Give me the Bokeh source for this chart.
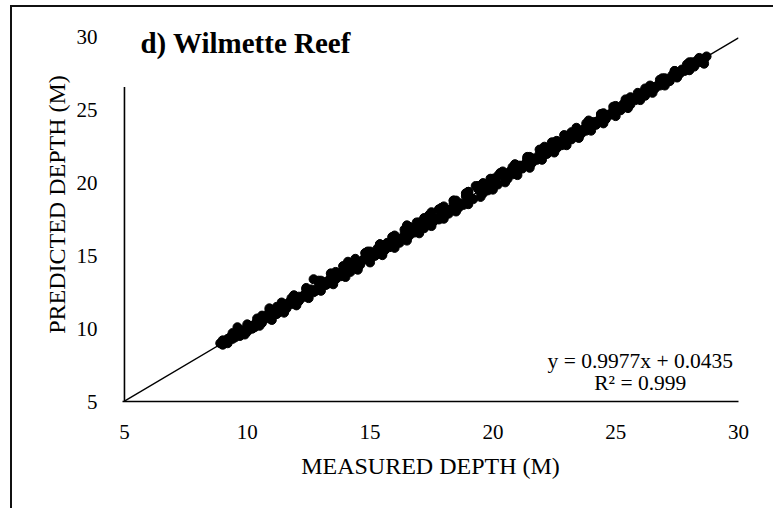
from bokeh.plotting import figure
from bokeh.models import Label, FixedTicker, ColumnDataSource
from bokeh.embed import file_html
from bokeh.resources import INLINE

# Measured / predicted depth (m)
measured_a = [8.9, 9.0, 9.1, 9.3, 9.4, 9.6, 9.7, 9.9, 10.1, 10.3, 10.5, 10.7, 10.9, 11.1, 11.3, 11.5,
              11.7, 11.9, 12.1, 12.3, 12.5, 12.7, 12.9, 13.1, 13.3, 13.5, 13.7, 13.9, 14.1, 14.3, 14.5,
              14.7, 14.9, 15.1, 15.3, 15.5, 15.7, 15.9, 16.1, 16.3, 16.5, 16.7, 16.9, 17.1, 17.3, 17.5,
              17.7, 17.9, 18.1, 18.3, 18.5, 18.7, 18.9, 19.1, 19.3, 19.5, 19.7, 19.9, 20.1, 20.3, 20.5,
              20.7, 20.9, 21.1, 21.3, 21.5, 21.7, 21.9, 22.1, 22.3, 22.5, 22.7, 22.9, 23.1, 23.3, 23.5,
              23.7, 23.9, 24.1, 24.3, 24.5, 24.7, 24.9, 25.1, 25.3, 25.5, 25.7, 25.9, 26.1, 26.3, 26.5,
              26.7, 26.9, 27.1, 27.3, 27.5, 27.7, 27.9, 28.1, 28.3, 28.5, 28.7, 28.6, 28.4]
predicted_a = [9.0, 9.2, 9.1, 9.4, 9.3, 10.1, 9.8, 9.6, 10.2, 10.3, 10.6, 10.7, 11.4, 11.1, 11.4, 11.5,
               11.8, 11.9, 12.2, 12.3, 12.6, 13.4, 12.9, 13.2, 13.3, 13.6, 13.7, 14.0, 14.6, 14.2, 14.6,
               14.7, 15.0, 15.1, 15.5, 15.4, 15.9, 15.8, 16.2, 16.2, 17.1, 16.7, 17.0, 17.0, 17.5, 18.0,
               17.6, 18.0, 18.2, 18.2, 18.8, 18.6, 19.1, 19.0, 19.8, 19.4, 19.9, 19.8, 20.2, 20.7, 20.5,
               20.8, 20.9, 21.2, 21.3, 21.8, 21.7, 22.0, 22.5, 22.3, 22.6, 22.7, 23.0, 23.3, 23.3, 23.6,
               23.7, 24.0, 24.2, 24.3, 24.6, 24.7, 25.0, 25.1, 25.4, 25.5, 25.8, 25.9, 26.2, 26.3, 26.6,
               26.7, 27.0, 27.1, 27.4, 27.5, 27.8, 27.9, 28.3, 28.4, 28.5, 28.7, 28.2, 28.6]
measured_b = [9.0, 9.2, 9.5, 9.8, 10.0, 10.2, 10.4, 10.6, 10.8, 11.0, 11.2, 11.4, 11.6, 11.8, 12.0, 12.2,
              12.4, 12.6, 12.8, 13.0, 13.2, 13.4, 13.6, 13.8, 14.0, 14.2, 14.4, 14.6, 14.8, 15.0, 15.2,
              15.4, 15.6, 15.8, 16.0, 16.2, 16.4, 16.6, 16.8, 17.0, 17.2, 17.4, 17.6, 17.8, 18.0, 18.2,
              18.4, 18.6, 18.8, 19.0, 19.2, 19.4, 19.6, 19.8, 20.0, 20.2, 20.4, 20.6, 20.8, 21.0, 21.2,
              21.4, 21.6, 21.8, 22.0, 22.2, 22.4, 22.6, 22.8, 23.0, 23.2, 23.4, 23.6, 23.8, 24.0, 24.2,
              24.4, 24.6, 24.8, 25.0, 25.2, 25.4, 25.6, 25.8, 26.0, 26.2, 26.4, 26.6, 26.8, 27.0, 27.2,
              27.4, 27.6, 27.8, 28.0, 28.2, 28.4]
predicted_b = [8.9, 9.0, 9.4, 9.9, 9.8, 10.0, 10.5, 10.4, 10.9, 10.8, 11.0, 11.5, 11.4, 11.7, 11.9, 12.1,
               12.2, 12.7, 12.6, 12.9, 13.0, 13.5, 13.4, 13.6, 14.0, 13.9, 14.3, 14.4, 14.9, 14.8, 15.0,
               15.6, 15.4, 15.6, 16.1, 15.9, 16.5, 16.4, 16.6, 17.3, 16.9, 17.7, 17.4, 17.5, 18.4, 17.9,
               18.6, 18.3, 18.5, 19.4, 18.9, 19.6, 19.3, 19.5, 20.3, 19.9, 20.6, 20.3, 20.6, 21.2, 21.0,
               21.6, 21.4, 21.6, 22.2, 22.0, 22.5, 22.4, 22.6, 23.2, 23.0, 23.5, 23.4, 23.6, 24.1, 24.0,
               24.5, 24.4, 24.7, 25.2, 25.0, 25.6, 25.4, 25.7, 26.1, 26.0, 26.5, 26.5, 26.7, 27.2, 27.0,
               27.5, 27.5, 27.7, 28.1, 28.0, 28.3]
measured_c = [10.5, 11.0, 11.5, 12.0, 12.5, 13.0, 13.5, 14.0, 14.5, 15.0, 15.5, 16.0, 16.5, 17.0, 17.5,
              18.0, 18.5, 19.0, 19.5, 20.0, 20.5, 21.0, 21.5, 22.0, 22.5, 23.0, 23.5, 24.0, 24.5, 25.0,
              25.5, 26.0, 26.5, 27.0, 27.5, 28.0]
predicted_c = [10.2, 10.6, 11.1, 11.6, 12.1, 12.6, 13.05, 13.55, 14.05, 14.55, 15.05, 15.55, 16.05, 16.55,
               17.05, 17.55, 18.05, 18.55, 19.05, 19.55, 20.05, 20.55, 21.05, 21.6, 22.1, 22.6, 23.1, 23.6,
               24.1, 24.6, 25.15, 25.7, 26.2, 26.7, 27.25, 27.75]
measured_d = [10.4, 10.9, 11.4, 11.9, 12.4, 12.9, 13.4, 13.9, 14.4, 14.9, 15.4, 15.9, 16.4, 16.9, 17.4,
              17.9, 18.4, 18.9, 19.4, 19.9, 20.4, 20.9, 21.4, 21.9, 22.4, 22.9, 23.4, 23.9, 24.4, 24.9,
              25.4, 25.9, 26.4, 26.9, 27.4, 27.9]
predicted_d = [10.7, 11.2, 11.8, 12.3, 12.8, 13.3, 13.8, 14.3, 14.8, 15.3, 15.8, 16.3, 16.8, 17.3, 17.8,
               18.3, 18.8, 19.3, 19.8, 20.3, 20.8, 21.3, 21.8, 22.3, 22.8, 23.3, 23.8, 24.3, 24.75, 25.25,
               25.75, 26.2, 26.7, 27.2, 27.7, 28.15]
measured_e = [9.2, 9.7, 10.3, 10.9, 11.5, 12.1, 12.7, 13.3, 13.9, 14.5, 15.0, 15.5, 16.0, 16.5, 17.0,
              17.5, 18.0, 18.5, 19.0, 19.5, 20.0, 20.5, 21.0, 21.5, 22.0, 22.5, 23.0, 23.5, 24.0, 24.5,
              25.0, 25.5, 26.0, 26.5, 27.0, 27.5, 28.0, 28.6]
predicted_e = [9.3, 9.5, 10.1, 10.7, 11.3, 11.9, 12.5, 13.1, 13.7, 14.2, 15.3, 15.2, 15.7, 16.2, 16.7,
               17.2, 17.7, 18.2, 18.7, 19.8, 19.7, 20.2, 20.8, 21.2, 21.8, 22.8, 22.8, 23.3, 23.8, 24.8,
               24.8, 25.3, 25.8, 26.4, 26.8, 27.3, 27.8, 28.5]
measured_f = [9.4, 10.0, 10.6, 11.2, 11.8, 12.4, 13.0, 13.6, 14.2, 14.8, 15.4, 16.0, 16.6, 17.2, 17.8,
              18.4, 19.0, 19.6, 20.2, 20.8, 21.4, 22.0, 22.6, 23.2, 23.8, 24.4, 25.0, 25.6, 26.2, 26.8,
              27.4, 28.0]
predicted_f = [9.7, 10.3, 10.9, 11.5, 12.1, 12.7, 13.3, 13.9, 14.5, 15.2, 15.8, 16.4, 17.0, 17.6, 18.2,
               18.8, 19.4, 20.0, 20.5, 21.1, 21.7, 22.3, 22.9, 23.5, 24.1, 24.7, 25.3, 25.9, 26.5, 27.1,
               27.7, 28.3]

trend_slope = 0.9977
trend_intercept = 0.0435
trend_x = [5, 30]
axis_ticks = [5, 10, 15, 20, 25, 30]
axis_min = 5
y_axis_line_top = 26.6   # above this the chart-title box hides the axis line

SERIF = "Liberation Serif"

p = figure(width=763, height=503, x_range=(4.92, 30), y_range=(5, 32.06),
           output_backend="svg", toolbar_location=None,
           min_border_left=110, min_border_right=37, min_border_top=0, min_border_bottom=109,
           styles={"margin-left": "10px", "margin-top": "5px",
                   "border-left": "2px solid #111", "border-top": "2px solid #111"})
p.outline_line_color = None
p.grid.visible = False
p.background_fill_color = "white"
p.border_fill_color = "white"

xs = measured_a + measured_b + measured_c + measured_d + measured_e + measured_f
ys = predicted_a + predicted_b + predicted_c + predicted_d + predicted_e + predicted_f
src = ColumnDataSource(dict(x=xs, y=ys))
p.scatter("x", "y", source=src, size=9, fill_color="black", line_color="black")

trend_y = [trend_slope * v + trend_intercept for v in trend_x]
p.line(trend_x, trend_y, line_color="black", line_width=1.4)

# visible part of the vertical value axis line
p.segment(x0=[axis_min], y0=[axis_min], x1=[axis_min], y1=[y_axis_line_top],
          line_color="black", line_width=1.6)

for ax in (p.xaxis[0], p.yaxis[0]):
    ax.ticker = FixedTicker(ticks=axis_ticks)
    ax.major_tick_line_color = None
    ax.minor_tick_line_color = None
    ax.axis_line_color = "black"
    ax.axis_line_width = 1.6
    ax.major_label_text_font = SERIF
    ax.major_label_text_font_size = "21px"
    ax.major_label_text_color = "black"
    ax.axis_label_text_font = SERIF
    ax.axis_label_text_font_size = "24px"
    ax.axis_label_text_font_style = "normal"
    ax.axis_label_text_color = "black"

p.yaxis.axis_line_color = None
p.xaxis.major_label_standoff = 17
p.yaxis.major_label_standoff = 19
p.xaxis.axis_label = "MEASURED DEPTH (M)"
p.yaxis.axis_label = "PREDICTED DEPTH (M)"
p.xaxis.axis_label_standoff = 11
p.yaxis.axis_label_standoff = 4
p.yaxis.major_label_orientation = "horizontal"

title = Label(x=5.65, y=29.59, text="d) Wilmette Reef", text_font=SERIF, text_font_size="29px",
              text_font_style="bold", text_color="black", text_baseline="middle", text_align="left")
p.add_layout(title)

eq1 = Label(x=26.0, y=7.75, text="y = 0.9977x + 0.0435", text_font=SERIF, text_font_size="21.5px",
            text_color="black", text_align="center", text_baseline="middle")
eq2 = Label(x=26.0, y=6.24, text="R² = 0.999", text_font=SERIF, text_font_size="21.5px",
            text_color="black", text_align="center", text_baseline="middle")
p.add_layout(eq1)
p.add_layout(eq2)

open("out.html", "w").write(file_html(p, INLINE))
